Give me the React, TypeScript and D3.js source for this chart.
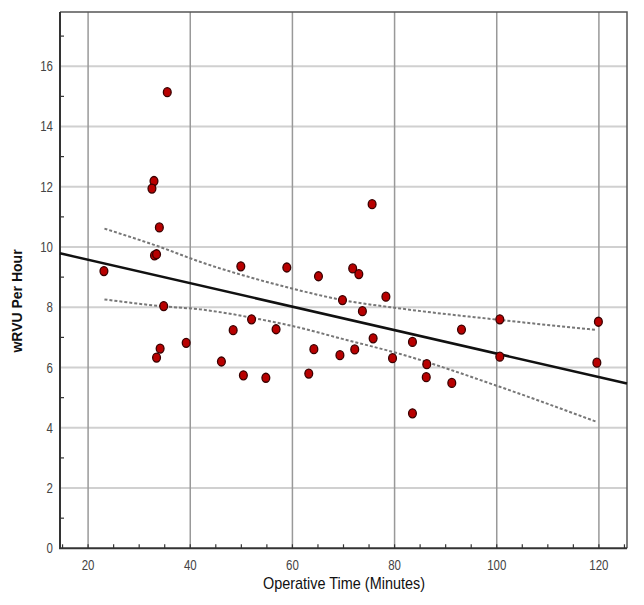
import { useEffect, useRef } from 'react';
import * as d3 from 'd3';

// operative time (minutes) and wRVU per hour
const opTime = [
  23.1, 35.5, 32.9, 32.5, 33.95, 33.0, 33.4, 34.8, 34.1, 33.4, 39.2, 46.1, 48.4, 52.0,
  50.4, 49.9, 58.9, 65.1, 71.8, 73.0, 69.8, 78.3, 73.7, 56.8, 64.2, 69.3, 72.2, 75.8,
  79.6, 83.5, 83.5, 54.8, 63.2, 75.6, 86.3, 86.2, 91.2, 93.1, 100.6, 100.6, 119.9, 119.6,
];
const wrvu = [
  9.2, 15.14, 12.19, 11.94, 10.65, 9.72, 9.76, 8.04, 6.63, 6.33, 6.82, 6.2, 7.24, 7.6,
  5.74, 9.36, 9.32, 9.03, 9.29, 9.1, 8.24, 8.35, 7.87, 7.27, 6.61, 6.41, 6.6, 6.97,
  6.31, 6.85, 4.48, 5.66, 5.8, 11.42, 6.11, 5.68, 5.49, 7.26, 7.6, 6.36, 7.52, 6.16,
];

// fitted line, drawn across the whole plot
const fitX = [14.5, 125.5];
const fitY = [9.79, 5.47];

// 95% confidence band, upper and lower edges
const bandX = [23.2, 34.1, 41.9, 53.7, 60.2, 69.8, 81.1, 100.6, 119.5];
const bandUpper = [10.61, 10.0, 9.51, 8.9, 8.61, 8.24, 7.96, 7.58, 7.25];
const bandLower = [8.26, 8.04, 7.93, 7.6, 7.37, 6.95, 6.45, 5.36, 4.2];

const xTicks = [20, 40, 60, 80, 100, 120];
const yTicks = [0, 2, 4, 6, 8, 10, 12, 14, 16];

export default function App() {
  const svgRef = useRef<SVGSVGElement | null>(null);

  useEffect(() => {
    if (!svgRef.current) return;
    const width = 644;
    const height = 605;
    const left = 60, right = 627, top = 12, bottom = 548.3;

    const svg = d3.select(svgRef.current);
    svg.selectAll('*').remove();
    svg.attr('width', width).attr('height', height);

    const x = d3.scaleLinear().domain([14.5, 125.5]).range([left, right]);
    const y = d3.scaleLinear().domain([0, 17.8]).range([bottom, top]);

    const tickFont = '"Liberation Sans", Arial, sans-serif';

    // horizontal grid
    svg.append('g')
      .selectAll('line')
      .data(yTicks.filter(d => d > 0))
      .join('line')
      .attr('x1', left).attr('x2', right)
      .attr('y1', d => y(d)).attr('y2', d => y(d))
      .attr('stroke', '#d0d0d0')
      .attr('stroke-width', 2);

    // vertical grid
    svg.append('g')
      .selectAll('line')
      .data(xTicks)
      .join('line')
      .attr('x1', d => x(d)).attr('x2', d => x(d))
      .attr('y1', top).attr('y2', bottom)
      .attr('stroke', '#999')
      .attr('stroke-width', 1.5);

    // frame top and right
    svg.append('path')
      .attr('d', `M${left},${top}H${right}V${bottom}`)
      .attr('fill', 'none')
      .attr('stroke', '#555')
      .attr('stroke-width', 1.5);

    // minor ticks
    svg.append('g')
      .selectAll('line')
      .data(d3.range(15, 126, 5))
      .join('line')
      .attr('x1', d => x(d)).attr('x2', d => x(d))
      .attr('y1', bottom).attr('y2', bottom - 4)
      .attr('stroke', '#333')
      .attr('stroke-width', 1.2);
    svg.append('g')
      .selectAll('line')
      .data(d3.range(1, 18, 2))
      .join('line')
      .attr('x1', left).attr('x2', left + 4)
      .attr('y1', d => y(d)).attr('y2', d => y(d))
      .attr('stroke', '#333')
      .attr('stroke-width', 1.2);

    // axes lines
    svg.append('path')
      .attr('d', `M${left},${top}V${bottom}H${right}`)
      .attr('fill', 'none')
      .attr('stroke', '#333')
      .attr('stroke-width', 2);

    // tick labels (narrowed to match the condensed face)
    svg.append('g')
      .selectAll('text')
      .data(xTicks)
      .join('text')
      .attr('transform', d => `translate(${x(d)},570) scale(0.82,1)`)
      .attr('text-anchor', 'middle')
      .attr('font-family', tickFont)
      .attr('font-size', 14)
      .attr('fill', '#444')
      .text(d => d);
    svg.append('g')
      .selectAll('text')
      .data(yTicks)
      .join('text')
      .attr('transform', d => `translate(53,${y(d) + 5}) scale(0.82,1)`)
      .attr('text-anchor', 'end')
      .attr('font-family', tickFont)
      .attr('font-size', 14)
      .attr('fill', '#444')
      .text(d => d);

    // confidence band edges
    const bandLine = d3.line<number>()
      .x((_, i) => x(bandX[i]))
      .curve(d3.curveMonotoneX);
    [bandUpper, bandLower].forEach(vals => {
      svg.append('path')
        .attr('d', bandLine.y(d => y(d))(vals))
        .attr('fill', 'none')
        .attr('stroke', '#777')
        .attr('stroke-width', 2)
        .attr('stroke-dasharray', '3,2');
    });

    // fit line
    svg.append('path')
      .attr('d', d3.line<number>().x((_, i) => x(fitX[i])).y(d => y(d))(fitY))
      .attr('fill', 'none')
      .attr('stroke', '#111')
      .attr('stroke-width', 2.5);

    // points
    svg.append('g')
      .selectAll('ellipse')
      .data(opTime)
      .join('ellipse')
      .attr('cx', d => x(d))
      .attr('cy', (_, i) => y(wrvu[i]))
      .attr('rx', 3.9)
      .attr('ry', 4.5)
      .attr('fill', '#b80000')
      .attr('stroke', '#3a0000')
      .attr('stroke-width', 1.3);

    // axis titles
    svg.append('text')
      .attr('x', 344)
      .attr('y', 589)
      .attr('text-anchor', 'middle')
      .attr('font-family', tickFont)
      .attr('font-size', 17)
      .attr('textLength', 162)
      .attr('lengthAdjust', 'spacingAndGlyphs')
      .attr('fill', '#111')
      .text('Operative Time (Minutes)');
    svg.append('text')
      .attr('transform', 'translate(22,301) rotate(-90)')
      .attr('text-anchor', 'middle')
      .attr('font-family', 'Arial, "Liberation Sans", sans-serif')
      .attr('font-weight', 'bold')
      .attr('font-size', 14)
      .attr('fill', '#111')
      .text('wRVU Per Hour');
  }, []);

  return (
    <div style={{ position: 'absolute', left: 0, top: 0, background: '#fff' }}>
      <svg ref={svgRef} style={{ display: 'block' }}></svg>
    </div>
  );
}
